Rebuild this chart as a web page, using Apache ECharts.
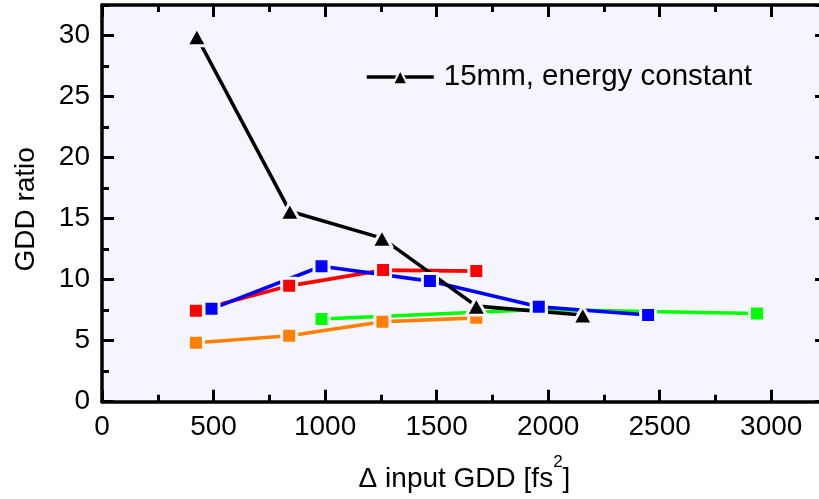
<!DOCTYPE html>
<html>
<head>
<meta charset="utf-8">
<script src="https://cdn.jsdelivr.net/npm/echarts@6/dist/echarts.min.js"></script>
<style>
html,body{margin:0;padding:0;background:#fff;}
#chart{width:819px;height:499px;}
</style>
</head>
<body>
<div id="chart"></div>
<script>
// ---- data ----
const gddBlack = [425, 842, 1255, 1678, 2155];
const ratioBlack = [29.9, 15.6, 13.4, 7.83, 7.1];
const gddRed = [421, 839, 1260, 1678];
const ratioRed = [7.45, 9.49, 10.78, 10.7];
const gddBlue = [491, 984, 1470, 1958, 2448];
const ratioBlue = [7.61, 11.1, 9.88, 7.78, 7.1];
const gddGreen = [984, 1958, 2936];
const ratioGreen = [6.77, 7.55, 7.23];
const gddOrange = [421, 839, 1257, 1678];
const ratioOrange = [4.83, 5.4, 6.55, 6.87];
const legendLabel = '15mm, energy constant';
const xTitle = '{a|\u0394 input GDD [fs}{s|2}{a|]}';
const yTitle = 'GDD ratio';

const FONT = 'Liberation Sans, Arial, sans-serif';
const PLOT_BG = '#f5f5fe';

function pairs(xs, ys) { return xs.map((x, i) => [x, ys[i]]); }

function mkSeries(name, xs, ys, color, symbol, size) {
  return {
    name: name,
    type: 'line',
    data: pairs(xs, ys),
    symbol: symbol,
    symbolSize: size,
    showSymbol: true,
    lineStyle: { color: color, width: 3.6 },
    itemStyle: { color: color, borderColor: PLOT_BG, borderWidth: 3, borderJoin: 'round' },
    emphasis: { disabled: true },
    xAxisIndex: 0,
    yAxisIndex: 0,
    clip: false
  };
}

const tickStyle = { color: '#000', width: 3 };
const lineStyle = { color: '#000', width: 3.5 };
const plain = v => String(v);

function xAx(pos, interval, len, main) {
  return {
    type: 'value', position: pos, min: 0, max: 3250, interval: interval,
    axisLine: { show: main, onZero: false, lineStyle: lineStyle },
    axisTick: { show: true, inside: true, length: len, lineStyle: tickStyle },
    axisLabel: { show: false },
    splitLine: { show: false }
  };
}
function yAx(pos, interval, len, main) {
  return {
    type: 'value', position: pos, min: 0, max: 32.5, interval: interval,
    axisLine: { show: main, onZero: false, lineStyle: lineStyle },
    axisTick: { show: true, inside: true, length: len, lineStyle: tickStyle },
    axisLabel: { show: false },
    splitLine: { show: false }
  };
}

const xMain = xAx('bottom', 500, 12, true);
xMain.axisLabel = { show: true, margin: 12, fontSize: 28, fontFamily: FONT, color: '#000', showMaxLabel: false, formatter: plain };
xMain.name = xTitle;
xMain.nameLocation = 'middle';
xMain.nameGap = 52;
xMain.nameTextStyle = {
  fontFamily: FONT, color: '#000',
  rich: {
    a: { fontSize: 28, fontFamily: FONT, color: '#000', lineHeight: 40, verticalAlign: 'bottom' },
    s: { fontSize: 17, fontFamily: FONT, color: '#000', lineHeight: 12, verticalAlign: 'top' }
  }
};

const yMain = yAx('left', 5, 12, true);
yMain.axisLabel = { show: true, margin: 12, fontSize: 28, fontFamily: FONT, color: '#000', showMaxLabel: false, formatter: plain };
yMain.name = yTitle;
yMain.nameLocation = 'middle';
yMain.nameGap = 62;
yMain.nameTextStyle = { fontSize: 28, fontFamily: FONT, color: '#000', padding: [0, 12, 0, 0] };

const option = {
  animation: false,
  backgroundColor: '#fff',
  grid: {
    left: 102, top: 5, width: 725, height: 396.7,
    show: true, backgroundColor: PLOT_BG, borderWidth: 0,
    containLabel: false, outerBoundsMode: 'none'
  },
  legend: {
    data: [legendLabel],
    left: 365, top: 62, padding: 0,
    itemWidth: 67, itemHeight: 18,
    selectedMode: false,
    lineStyle: { width: 3.5 },
    textStyle: { fontSize: 29.5, fontFamily: FONT, color: '#000', padding: [0, 0, 0, 5] }
  },
  xAxis: [
    xMain,
    xAx('bottom', 250, 7, false),
    xAx('top', 500, 12, true),
    xAx('top', 250, 7, false)
  ],
  yAxis: [
    yMain,
    yAx('left', 2.5, 7, false),
    yAx('right', 5, 12, true),
    yAx('right', 2.5, 7, false)
  ],
  series: [
    mkSeries('green', gddGreen, ratioGreen, '#00ff00', 'rect', 15),
    mkSeries('orange', gddOrange, ratioOrange, '#ff8000', 'rect', 15),
    mkSeries('red', gddRed, ratioRed, '#ff0000', 'rect', 15),
    mkSeries('blue', gddBlue, ratioBlue, '#0000ff', 'rect', 15),
    mkSeries(legendLabel, gddBlack, ratioBlack, '#000000', 'triangle', [20, 18])
  ]
};

const chart = echarts.init(document.getElementById('chart'), null, { renderer: 'canvas' });
chart.setOption(option);
</script>
</body>
</html>
